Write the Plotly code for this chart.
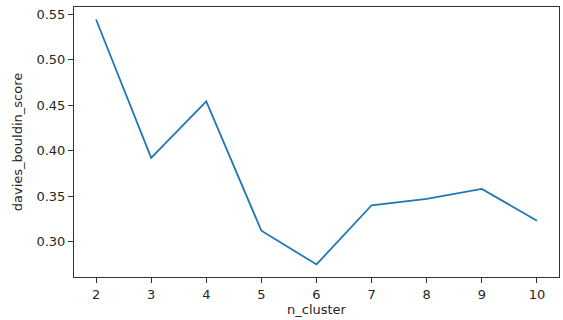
import plotly.graph_objects as go

n_cluster = [2, 3, 4, 5, 6, 7, 8, 9, 10]
davies_bouldin_score = [0.544, 0.392, 0.454, 0.312, 0.275, 0.340, 0.347, 0.358, 0.323]
y_ticks = [0.30, 0.35, 0.40, 0.45, 0.50, 0.55]
y_tick_labels = ["0.30", "0.35", "0.40", "0.45", "0.50", "0.55"]

font = dict(family="DejaVu Sans", size=13, color="#262626")

fig = go.Figure(
    go.Scatter(
        x=n_cluster, y=davies_bouldin_score, mode="lines",
        line=dict(color="#1f77b4", width=1.8),
    )
)
axis_common = dict(
    showgrid=False, zeroline=False, showline=True, mirror=True,
    linecolor="#333333", linewidth=1, ticks="outside", ticklen=5,
    tickcolor="#333333", tickwidth=1, tickfont=font, automargin=False,
)
fig.update_layout(
    width=563, height=320, plot_bgcolor="white", paper_bgcolor="white",
    margin=dict(l=74, r=4, t=7, b=43, autoexpand=False), showlegend=False,
    font=font,
    xaxis=dict(range=[1.6, 10.4], tickvals=n_cluster, **axis_common,
               title=dict(text="n_cluster", font=font, standoff=4)),
    yaxis=dict(range=[0.2612, 0.5577], tickvals=y_ticks, ticktext=y_tick_labels,
               **axis_common,
               title=dict(text="davies_bouldin_score", font=font, standoff=10)),
)
fig.write_html(
    "out.html",
    config={"displayModeBar": False},
    post_script="document.body.style.margin='0';document.body.style.padding='0';",
)
